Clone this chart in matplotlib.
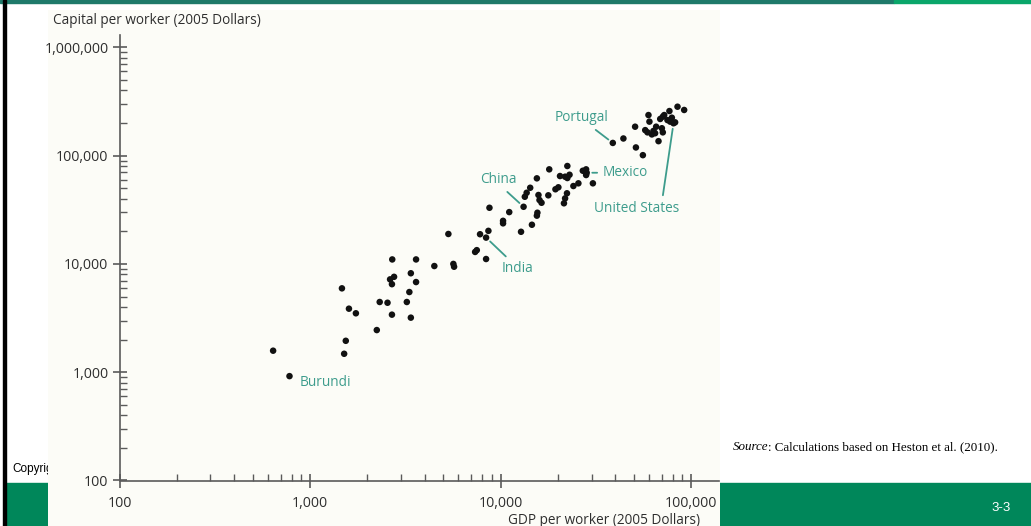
import matplotlib.pyplot as plt
import matplotlib.ticker as mticker
from matplotlib.patches import Rectangle

# GDP per worker vs capital per worker (2005 dollars)
gdp = [640, 780, 1470, 1600, 1740, 1540, 1510, 2240, 2320, 2550,
       2700, 3600, 2630, 2760, 2690, 3380, 3600, 3320, 3220, 2690,
       3380, 4490, 5650, 5700, 5320, 7350, 7500, 8390, 7800, 8630,
       8390, 8740, 11100, 10300, 10300, 12800, 13200, 14600, 15600, 15500,
       13400, 13700, 14300, 15500, 15800, 16000, 16400, 17800, 18000, 19400,
       20100, 20500, 21800, 23000, 22400, 22400, 22300, 21800, 21500, 24100,
       25600, 27000, 28100, 28100, 28300, 30500, 38800, 44100, 50800, 51300,
       55800, 59700, 60400, 57400, 59000, 62200, 63400, 65500, 64700, 67400,
       68800, 71000, 72200, 70200, 71000, 75100, 77600, 79200, 80800, 82400,
       76900, 84800, 91900]
capital = [1580, 920, 5950, 3860, 3500, 1950, 1480, 2450, 4450, 4380,
           11000, 11000, 7200, 7600, 6500, 8200, 6800, 5500, 4450, 3400,
           3190, 9560, 10000, 9420, 18900, 12900, 13400, 11100, 18800, 20200,
           17500, 33000, 30100, 25000, 23700, 19800, 33700, 23000, 29700, 27900,
           41700, 45400, 50500, 61700, 43300, 38900, 36700, 43000, 74700, 48900,
           51000, 64800, 63900, 66600, 62100, 80200, 44900, 40300, 36300, 52400,
           55500, 72500, 74700, 66200, 69500, 55500, 131000, 144000, 185000, 119000,
           101000, 237000, 206000, 172000, 164000, 157000, 169000, 185000, 161000, 136000,
           218000, 229000, 237000, 179000, 164000, 213000, 206000, 224000, 199000, 203000,
           258000, 283000, 264000]

countries = ['Burundi', 'India', 'China', 'Mexico', 'Portugal', 'United States']
country_gdp = [780, 8390, 13200, 28300, 38800, 80800]
country_capital = [920, 17500, 33700, 69500, 131000, 199000]

x_ticks = [100, 1000, 10000, 100000]
x_tick_labels = ['100', '1,000', '10,000', '100,000']
y_ticks = [100, 1000, 10000, 100000, 1000000]
y_tick_labels = ['100', '1,000', '10,000', '100,000', '1,000,000']

W, H = 1031, 526
TEAL = '#3d9c8c'
AXIS = '#5a5a5a'
INK = '#2e2e2e'

plt.rcParams['font.family'] = ['Open Sans', 'DejaVu Sans']

fig = plt.figure(figsize=(W / 100, H / 100), dpi=100)
fig.patch.set_facecolor('white')


def px_box(x0, y0, x1, y1):
    # pixel box measured from top-left -> figure fraction rect
    return [x0 / W, 1 - y1 / H, (x1 - x0) / W, (y1 - y0) / H]


# slide frame
fig.patches.append(Rectangle((6 / W, 0), 1 - 6 / W, 43 / H, transform=fig.transFigure,
                             color='#00875a', zorder=0.2))
fig.patches.append(Rectangle((0, 1 - 2.5 / H), 894 / W, 2.5 / H, transform=fig.transFigure,
                             color='#1f7a6a', zorder=0.2))
fig.patches.append(Rectangle((894 / W, 1 - 2.5 / H), 1 - 894 / W, 2.5 / H, transform=fig.transFigure,
                             color='#0aa66a', zorder=0.2))
fig.patches.append(Rectangle((3 / W, 0), 3 / W, 1, transform=fig.transFigure,
                             color='black', zorder=0.2))
fig.text(12 / W, 1 - 469 / H, 'Copyright', fontsize=8.5, family='Liberation Sans',
         va='center', ha='left', zorder=0.5)
src = fig.text(733 / W, 1 - 447 / H, 'Source', fontsize=9.4, family='Liberation Serif',
               style='italic', va='center', ha='left')
fig.add_artist(plt.Annotation(': Calculations based on Heston et al. (2010).', xy=(1, 0),
                              xycoords=src, va='bottom', ha='left', fontsize=9.4,
                              family='Liberation Serif'))
fig.text(1001 / W, 1 - 508 / H, '3-3', fontsize=9.5, family='Liberation Sans',
         color='white', va='center', ha='center')

# pasted chart background
bg = fig.add_axes(px_box(48, 10, 720, 526), zorder=1)
bg.set_facecolor('#fcfcf7')
bg.set_xticks([])
bg.set_yticks([])
for s in bg.spines.values():
    s.set_visible(False)

ax = fig.add_axes(px_box(119.5, 35, 719, 480.5), zorder=2)
ax.patch.set_alpha(0)
ax.set_xscale('log')
ax.set_yscale('log')
ax.set_xlim(100, 140000)
ax.set_ylim(100, 1.3e6)

ax.scatter(gdp, capital, s=22, color='#111111', edgecolors='none', zorder=3)

for s in ['top', 'right']:
    ax.spines[s].set_visible(False)
for s in ['left', 'bottom']:
    ax.spines[s].set_color(AXIS)
    ax.spines[s].set_linewidth(1.2)

ax.set_xticks(x_ticks)
ax.set_xticklabels(x_tick_labels)
ax.set_yticks(y_ticks)
ax.set_yticklabels(y_tick_labels)
ax.xaxis.set_minor_locator(mticker.LogLocator(base=10, subs=range(2, 10), numticks=20))
ax.yaxis.set_minor_locator(mticker.LogLocator(base=10, subs=range(2, 10), numticks=20))
ax.xaxis.set_minor_formatter(mticker.NullFormatter())
ax.yaxis.set_minor_formatter(mticker.NullFormatter())
ax.tick_params(which='major', direction='inout', length=10, width=1.2, color=AXIS,
               labelsize=10.2, labelcolor=INK)
ax.tick_params(which='minor', direction='in', length=5, width=1, color=AXIS)
ax.tick_params(axis='x', which='major', pad=6)
ax.tick_params(axis='y', which='major', pad=3)

fig.text(53 / W, 1 - 20 / H, 'Capital per worker (2005 Dollars)', fontsize=9.8,
         color=INK, ha='left', va='center')
fig.text(604 / W, 1 - 520 / H, 'GDP per worker (2005 Dollars)', fontsize=9.8,
         color=INK, ha='center', va='center')

# country labels: (offset in pixels, alignment, leader start on the text box)
label_style = {
    'Burundi': ((10, -6), 'left', None),
    'India': ((31, -31), 'center', (0.3, 1.0)),
    'China': ((-25, 27), 'center', (0.6, 0.0)),
    'Mexico': ((16, 0), 'left', (0.0, 0.5)),
    'Portugal': ((-31, 25), 'center', (0.65, 0.0)),
    'United States': ((-37, -85), 'center', (0.8, 1.0)),
}
for name, cx, cy in zip(countries, country_gdp, country_capital):
    off, ha, rel = label_style[name]
    arrow = None
    if rel is not None:
        arrow = dict(arrowstyle='-', color=TEAL, lw=1.3, relpos=rel, shrinkA=2, shrinkB=4)
    ax.annotate(name, xy=(cx, cy), xytext=off, textcoords='offset pixels',
                ha=ha, va='center', fontsize=9.8, color=TEAL,
                arrowprops=arrow, annotation_clip=False)

fig.savefig('out.png', dpi=100)
